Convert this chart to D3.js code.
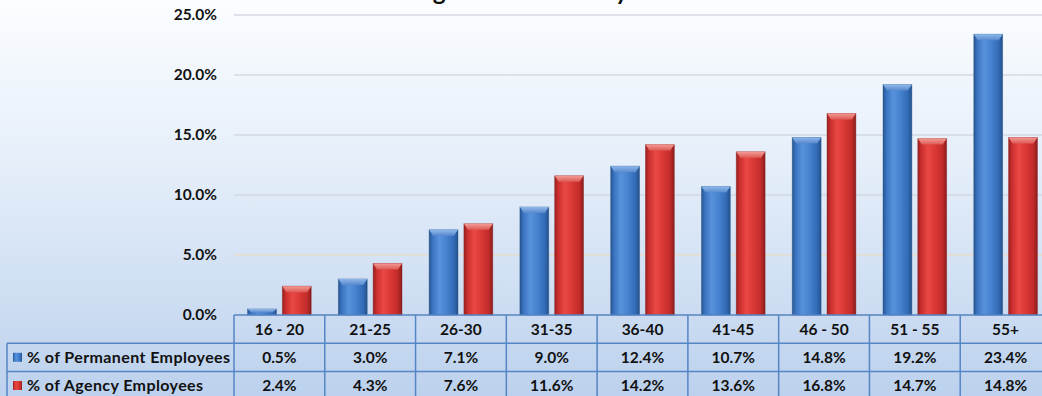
<!DOCTYPE html>
<html>
<head>
<meta charset="utf-8">
<script src="https://cdn.jsdelivr.net/npm/d3@7"></script>
<style>
  html, body { margin: 0; padding: 0; overflow: hidden; }
  svg { display: block; font-family: Lato, "Open Sans", sans-serif; font-weight: bold; }
</style>
</head>
<body>
<svg id="chart" width="1042" height="396"></svg>
<script>
const categories = ["16 - 20", "21-25", "26-30", "31-35", "36-40", "41-45", "46 - 50", "51 - 55", "55+"];
const permanent = [0.5, 3.0, 7.1, 9.0, 12.4, 10.7, 14.8, 19.2, 23.4];
const agency = [2.4, 4.3, 7.6, 11.6, 14.2, 13.6, 16.8, 14.7, 14.8];
const yTicks = [0, 5, 10, 15, 20, 25];
const seriesNames = ["% of Permanent Employees", "% of Agency Employees"];
const titleText = "Age Distribution by";

const svg = d3.select("#chart");
const width = 1042;
const height = 396;

const plotLeft = 234;
const plotRight = 1051;
const rowH = 28.2;

const x = d3.scaleBand().domain(categories).range([plotLeft, plotRight]);
const y = d3.scaleLinear().domain([0, 25]).range([315, 15]);
const sub = d3.scaleBand().domain([0, 1]).range([0, x.bandwidth()])
  .paddingInner(0.17).paddingOuter(0.39);

const defs = svg.append("defs");

// background
const bg = defs.append("linearGradient").attr("id", "bg")
  .attr("x1", 0).attr("y1", 0).attr("x2", 0).attr("y2", 1);
bg.append("stop").attr("offset", "0%").attr("stop-color", "#fbfdff");
bg.append("stop").attr("offset", "45%").attr("stop-color", "#e3edf9");
bg.append("stop").attr("offset", "100%").attr("stop-color", "#bcd1ed");

svg.append("rect").attr("width", width).attr("height", height).attr("fill", "url(#bg)");

// bar shading
const palettes = [
  { id: "blue", stops: ["#28568f", "#3a73c0", "#5892dc", "#4682cf", "#336cb8", "#24518a"], cap: "#8fb8ec", capDark: "#5889cc" },
  { id: "red", stops: ["#9a2020", "#c92e2e", "#ea4844", "#da3835", "#c22c2a", "#8a1d1d"], cap: "#f49a94", capDark: "#dc5a55" }
];
palettes.forEach((p) => {
  const g = defs.append("linearGradient").attr("id", "grad-" + p.id)
    .attr("x1", 0).attr("y1", 0).attr("x2", 1).attr("y2", 0);
  [0, 0.12, 0.35, 0.6, 0.85, 1].forEach((o, i) => {
    g.append("stop").attr("offset", o).attr("stop-color", p.stops[i]);
  });
  const c = defs.append("linearGradient").attr("id", "cap-" + p.id)
    .attr("x1", 0).attr("y1", 0).attr("x2", 0).attr("y2", 1);
  c.append("stop").attr("offset", 0).attr("stop-color", p.cap);
  c.append("stop").attr("offset", 1).attr("stop-color", p.capDark);
});

// gridlines
svg.append("g")
  .selectAll("line")
  .data(yTicks)
  .join("line")
  .attr("x1", plotLeft)
  .attr("x2", width)
  .attr("y1", (d) => y(d))
  .attr("y2", (d) => y(d))
  .attr("stroke", (d) => (d === 5 ? "#e3dccd" : "#d3d9e2"))
  .attr("stroke-width", 1.3);

// y labels
svg.append("g")
  .selectAll("text")
  .data(yTicks)
  .join("text")
  .attr("x", 217)
  .attr("y", (d) => y(d))
  .attr("dy", "0.35em")
  .attr("text-anchor", "end")
  .attr("font-size", 15.5)
  .attr("fill", "#111")
  .text((d) => d.toFixed(1) + "%");

// title (only the bottom of its last line shows at the top edge)
svg.append("text")
  .attr("x", 522)
  .attr("y", 0)
  .attr("text-anchor", "middle")
  .attr("font-size", 24.5)
  .attr("fill", "#111")
  .text(titleText);

// bars
const series = [permanent, agency];
series.forEach((vals, si) => {
  const p = palettes[si];
  const g = svg.append("g");
  const bars = g.selectAll("g")
    .data(vals.map((v, i) => ({ cat: categories[i], v })))
    .join("g")
    .attr("transform", (d) => `translate(${x(d.cat) + sub(si)},0)`);
  const bw = sub.bandwidth();
  bars.append("rect")
    .attr("x", 0)
    .attr("y", (d) => y(d.v))
    .attr("width", bw)
    .attr("height", (d) => y(0) - y(d.v))
    .attr("fill", "url(#grad-" + p.id + ")")
    .attr("stroke", p.stops[5])
    .attr("stroke-opacity", 0.5)
    .attr("stroke-width", 0.8);
  bars.append("path")
    .attr("d", (d) => {
      const top = y(d.v);
      const h = Math.min(6, (y(0) - top) * 0.6);
      return `M0,${top}L${bw},${top}L${bw - 4},${top + h}L4,${top + h}Z`;
    })
    .attr("fill", "url(#cap-" + p.id + ")");
});

// data table
const table = svg.append("g").attr("stroke", "#5585c4").attr("stroke-width", 1.5).attr("fill", "none");
const rowTop = [315, 315 + rowH, 315 + 2 * rowH];
table.append("line").attr("x1", plotLeft).attr("x2", width).attr("y1", rowTop[0]).attr("y2", rowTop[0]);
table.append("line").attr("x1", 7).attr("x2", width).attr("y1", rowTop[1]).attr("y2", rowTop[1]);
table.append("line").attr("x1", 7).attr("x2", width).attr("y1", rowTop[2]).attr("y2", rowTop[2]);
table.append("line").attr("x1", 7).attr("x2", 7).attr("y1", rowTop[1]).attr("y2", height);
table.selectAll(".col")
  .data(categories)
  .join("line")
  .attr("class", "col")
  .attr("x1", (d) => x(d))
  .attr("x2", (d) => x(d))
  .attr("y1", rowTop[0])
  .attr("y2", height);

svg.append("g")
  .selectAll("text")
  .data(categories)
  .join("text")
  .attr("x", (d) => x(d) + x.bandwidth() / 2)
  .attr("y", rowTop[0] + rowH / 2)
  .attr("dy", "0.35em")
  .attr("text-anchor", "middle")
  .attr("font-size", 15.5)
  .attr("fill", "#111")
  .text((d) => d);

series.forEach((vals, si) => {
  const cy = rowTop[si + 1] + rowH / 2;
  const row = svg.append("g");
  row.append("rect")
    .attr("x", 13).attr("y", cy - 4.5)
    .attr("width", 9).attr("height", 9)
    .attr("fill", "url(#grad-" + palettes[si].id + ")");
  row.append("text")
    .attr("x", 27).attr("y", cy).attr("dy", "0.35em")
    .attr("font-size", 16).attr("letter-spacing", 0.4)
    .attr("fill", "#111")
    .text(seriesNames[si]);
  row.selectAll(".val")
    .data(vals.map((v, i) => ({ cat: categories[i], v })))
    .join("text")
    .attr("class", "val")
    .attr("x", (d) => x(d.cat) + x.bandwidth() / 2)
    .attr("y", cy)
    .attr("dy", "0.35em")
    .attr("text-anchor", "middle")
    .attr("font-size", 15.5)
    .attr("fill", "#111")
    .text((d) => d.v.toFixed(1) + "%");
});
</script>
</body>
</html>
